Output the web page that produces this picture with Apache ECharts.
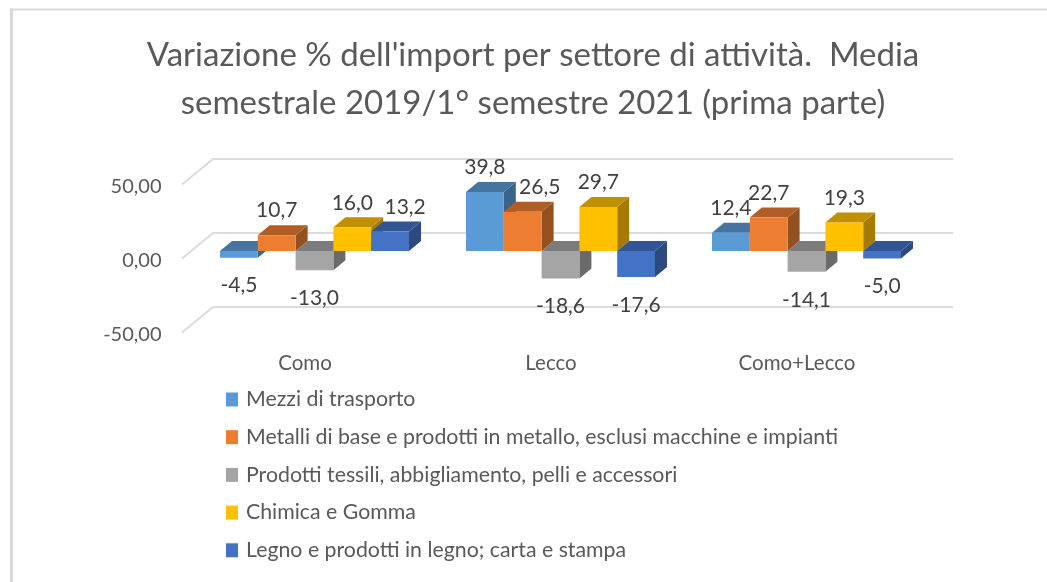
<!DOCTYPE html>
<html><head><meta charset="utf-8">
<style>html,body{margin:0;padding:0;background:#fff}#c{width:1047px;height:582px}</style>
<script src="https://cdn.jsdelivr.net/npm/echarts@6/dist/echarts.min.js"></script>
</head><body><div id="c"></div>
<script>
const categories = ['Como', 'Lecco', 'Como+Lecco'];
const mezzi = [-4.5, 39.8, 12.4];
const metalli = [10.7, 26.5, 22.7];
const tessili = [-13.0, -18.6, -14.1];
const chimica = [16.0, 29.7, 19.3];
const legno = [13.2, -17.6, -5.0];
const seriesNames = ['Mezzi di trasporto', 'Metalli di base e prodotti in metallo, esclusi macchine e impianti', 'Prodotti tessili, abbigliamento, pelli e accessori', 'Chimica e Gomma', 'Legno e prodotti in legno; carta e stampa'];
const seriesData = [mezzi, metalli, tessili, chimica, legno];
const yTicks = [-50, 0, 50];
const titleText = "Variazione % dell'import per settore di attività.  Media\nsemestrale 2019/1° semestre 2021 (prima parte)";

const colors = ['#5B9BD5', '#ED7D31', '#A5A5A5', '#FFC000', '#4472C4'];
const topColors = ['#44749F', '#B15D24', '#7C7C7C', '#BF9000', '#335593'];
const sideColors = ['#3C6488', '#95501F', '#6A6A6A', '#A47B00', '#2C4A7E'];
const font = 'Lato,"Open Sans",sans-serif';
const tickFmt = v => v.toFixed(2).replace('.', ',');
const lblFmt = v => v.toFixed(1).replace('.', ',');

const DX = 12, DY = -10;          // bar depth
const BAR_FRACTION = 37.8 / 246;  // bar width in a category
const WALL = [21.5, -18], FLOOR = [-9.5, 7.5]; // wall / front edge relative to the bar plane
const LABEL_SHIFT = {'4,0': 15, '1,1': 17};    // labels moved aside, series,category

const chart = echarts.init(document.getElementById('c'), null, {renderer:'canvas'});

function barX(api, cat, s) {
  const c = api.coord([cat, 0])[0], bw = api.size([1, 0])[0] * BAR_FRACTION;
  return [c + (s - 2.5) * bw, c + (s - 1.5) * bw];
}
const box = s => (params, api) => {
  const cat = api.value(0), val = api.value(1);
  const y0 = api.coord([cat, 0])[1], y1 = api.coord([cat, val])[1];
  const [x0, x1] = barX(api, cat, s);
  const t = Math.min(y0, y1), b = Math.max(y0, y1);
  const poly = (points, fill) => ({type:'polygon', shape:{points}, style:{fill}});
  return {type:'group', children:[
    poly([[x1,t],[x1+DX,t+DY],[x1+DX,b+DY],[x1,b]], sideColors[s]),
    poly([[x0,t],[x0+DX,t+DY],[x1+DX,t+DY],[x1,t]], topColors[s]),
    poly([[x0,t],[x1,t],[x1,b],[x0,b]], colors[s])
  ]};
};
const gridRender = (params, api) => {
  const t = api.value(1);
  const w = api.size([1, 0])[0];
  const c = api.coord([0, t]);
  const left = c[0] - w / 2, y = c[1];
  const right = left + w * categories.length;
  const bx = left + WALL[0], by = y + WALL[1];
  const line = {stroke:'#DCDCDC', lineWidth:2, fill:'none'};
  return {type:'polyline', shape:{points:[
    [left + FLOOR[0], y + FLOOR[1]], [bx, by], [right + WALL[0] + 2, by]
  ]}, style:line};
};
const labelRender = (params, api) => {
  const cat = api.value(0), val = api.value(1), s = api.value(2);
  const [x0, x1] = barX(api, cat, s);
  const y = api.coord([cat, val])[1];
  return {type:'text', silent:true, style:{
    text: lblFmt(val),
    x: (x0 + x1) / 2 + (LABEL_SHIFT[s + ',' + cat] || 0),
    y: y + (val >= 0 ? -24.5 : 28),
    fill:'#404040', font:'21px ' + font, align:'center', verticalAlign:'middle'
  }};
};

const drawOrder = [0, 2, 1, 3, 4];
const series = [
  {type:'custom', name:'griglia', renderItem:gridRender, z:1, clip:false,
   encode:{x:0, y:1}, silent:true, data:yTicks.map(t => [0, t])}
].concat(drawOrder.map((s, k) => ({
  type:'custom', name:seriesNames[s], renderItem:box(s), z:2 + k, clip:false,
  encode:{x:0, y:1}, itemStyle:{color:colors[s]},
  data:seriesData[s].map((v, c) => [c, v])
}))).concat([
  {type:'custom', name:'etichette', renderItem:labelRender, z:20, clip:false, silent:true,
   encode:{x:0, y:1},
   data:seriesData.flatMap((vals, s) => vals.map((v, c) => [c, v, s]))}
]);

chart.setOption({
  animation:false,
  backgroundColor:'#fff',
  graphic:[
    {type:'rect', shape:{x:10,y:8.5,width:1037,height:2}, style:{fill:'#D9D9D9'}, silent:true},
    {type:'rect', shape:{x:10,y:8.5,width:3,height:574}, style:{fill:'#D9D9D9'}, silent:true}
  ],
  title:{
    text:titleText, left:533, top:31, textAlign:'center', padding:0,
    textStyle:{fontFamily:font, fontSize:33, fontWeight:'normal', color:'#595959', lineHeight:48}
  },
  legend:{
    orient:'vertical', left:226, top:389, padding:0, itemWidth:12, itemHeight:14, itemGap:16.7,
    icon:'rect', data:seriesNames, selectedMode:false,
    textStyle:{fontFamily:font, fontSize:21.3, color:'#595959', lineHeight:20, padding:[0,0,0,3]}
  },
  grid:{left:191.5, width:738, top:177, height:148},
  xAxis:{
    type:'category', data:categories,
    axisLine:{show:false}, axisTick:{show:false}, splitLine:{show:false},
    axisLabel:{fontFamily:font, fontSize:20.5, color:'#595959', margin:28, padding:[0,19,0,0], interval:0}
  },
  yAxis:{
    type:'value', min:-50, max:50, interval:50,
    axisLine:{show:false}, axisTick:{show:false}, splitLine:{show:false},
    axisLabel:{fontFamily:font, fontSize:20, color:'#595959', margin:30, verticalAlign:'top', formatter:tickFmt}
  },
  series
});
</script></body></html>
